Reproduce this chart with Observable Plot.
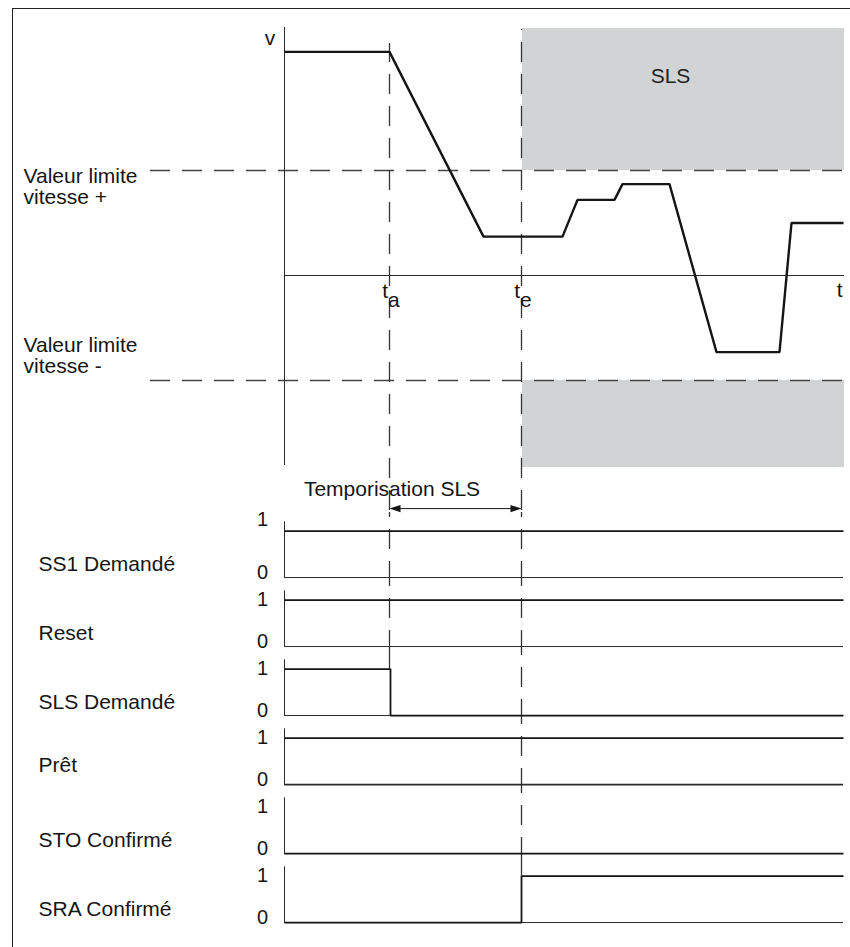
<!DOCTYPE html>
<html>
<head>
<meta charset="utf-8">
<script src="https://cdn.jsdelivr.net/npm/d3@7"></script>
<script src="https://cdn.jsdelivr.net/npm/@observablehq/plot@0.6"></script>
<style>
  body { margin: 0; background: #fff; }
  #wrap { position: relative; width: 850px; height: 947px; overflow: hidden; background: #fff; }
  #frame { position: absolute; left: 12px; top: 8px; width: 900px; height: 1000px;
           border-left: 1.5px solid #222; border-top: 1.5px solid #222; box-sizing: border-box; }
  #top { position: absolute; left: 0; top: 0; }
  #bottom { position: absolute; left: 0; top: 510px; }
</style>
</head>
<body>
<div id="wrap"><div id="frame"></div><div id="top"></div><div id="bottom"></div></div>
<script>
// ---------- data ----------
const tA = 105, tE = 237, tEnd = 559, tMax = 560;
const speedTime  = [0, 105, 199, 278, 293, 330, 338, 385, 432, 495, 507, 559];
const speedValue = [2.13, 2.13, 0.37, 0.37, 0.72, 0.72, 0.87, 0.87, -0.73, -0.73, 0.50, 0.50];
const limitPlus = 1, limitMinus = -1;
const slsZoneTop = 2.352, slsZoneBottom = -1.83;
const signalNames = ["SS1 Demandé", "Reset", "SLS Demandé", "Prêt", "STO Confirmé", "SRA Confirmé"];
const signalChangeTimes = [[0], [0], [0, 106], [0], [0], [0, 237]];
const signalLevels = [[1], [1], [1, 0], [1], [0], [0, 1]];
const markerTimes = [tA, tE];
const markerSubs = ["a", "e"];
const limitLine1 = "Valeur limite";
const limitLine2 = ["vitesse +", "vitesse -"];
const slsLabel = {t: 386, v: 1.9, text: "SLS"};
const delayLabel = "Temporisation SLS";

// ---------- layout constants ----------
const FONT = "Liberation Sans, Arial, Helvetica, sans-serif";
const INK = "#151515";
const vAxisTop = 2.362, vAxisBottom = -1.81;
const yTopDomain = [-2.2381, 2.6];
const arrowV = -2.22;
const sigLo = -4 / 47, sigHi = (69.8 - 4) / 47;
const dash = "20,12";

// ---------- top plot: speed ----------
const speed = speedTime.map((t, i) => ({t, v: speedValue[i]}));
const zones = [{y1: limitPlus, y2: slsZoneTop}, {y1: slsZoneBottom, y2: limitMinus}];

const headRight = {draw(ctx) { ctx.moveTo(0, 0); ctx.lineTo(-11, -3.6); ctx.lineTo(-11, 3.6); ctx.closePath(); }};
const headLeft  = {draw(ctx) { ctx.moveTo(0, 0); ctx.lineTo(11, -3.6); ctx.lineTo(11, 3.6); ctx.closePath(); }};

const topPlot = Plot.plot({
  width: 850, height: 510,
  marginLeft: 284, marginRight: 6, marginTop: 2, marginBottom: 0,
  x: {domain: [0, tMax], axis: null},
  y: {domain: yTopDomain, axis: null},
  style: {background: "transparent", fontFamily: FONT, overflow: "visible"},
  marks: [
    Plot.rect(zones, {x1: tE + 1, x2: tMax, y1: "y1", y2: "y2", fill: "#d1d3d4"}),
    Plot.ruleY([limitPlus, limitMinus], {x1: -134, x2: tMax, stroke: "#444", strokeWidth: 1.3, strokeDasharray: dash}),
    Plot.ruleX([0], {y1: vAxisBottom, y2: vAxisTop, stroke: "#2a2a2a", strokeWidth: 1}),
    Plot.ruleY([0], {x1: 0, x2: tMax, stroke: "#2a2a2a", strokeWidth: 1}),
    Plot.ruleX([tA], {y1: yTopDomain[0], y2: 2.21, stroke: "#333", strokeWidth: 1.3, strokeDasharray: dash}),
    Plot.ruleX([tE], {y1: yTopDomain[0], y2: 2.343, stroke: "#333", strokeWidth: 1.3, strokeDasharray: dash}),
    Plot.line(speed, {x: "t", y: "v", stroke: INK, strokeWidth: 2.4, strokeLinejoin: "miter", strokeLinecap: "butt"}),
    // labels
    Plot.text(["v"], {x: 0, y: vAxisTop, text: d => d, dx: -14.5, dy: 11, fontSize: 21, fill: INK, textAnchor: "middle"}),
    Plot.text([limitLine1], {x: 0, y: limitPlus, text: d => d, dx: -261, dy: 5.5, textAnchor: "start", fontSize: 21, fill: INK}),
    Plot.text([limitLine2[0]], {x: 0, y: limitPlus, text: d => d, dx: -261, dy: 26.5, textAnchor: "start", fontSize: 21, fill: INK}),
    Plot.text([limitLine1], {x: 0, y: limitMinus, text: d => d, dx: -261, dy: -35.5, textAnchor: "start", fontSize: 21, fill: INK}),
    Plot.text([limitLine2[1]], {x: 0, y: limitMinus, text: d => d, dx: -261, dy: -14.5, textAnchor: "start", fontSize: 21, fill: INK}),
    Plot.text([slsLabel], {x: "t", y: "v", text: "text", fontSize: 21, fill: "#222", textAnchor: "middle"}),
    Plot.text(markerTimes, {x: d => d, y: 0, text: () => "t", textAnchor: "end", dx: -1.5, dy: 15.3, fontSize: 21, fill: INK}),
    Plot.text(markerTimes, {x: d => d, y: 0, text: (d, i) => markerSubs[i], textAnchor: "start", dx: -1.5, dy: 24.3, fontSize: 21, fill: INK}),
    Plot.text(["t"], {x: tMax, y: 0, text: d => d, textAnchor: "end", dx: -2, dy: 14.3, fontSize: 21, fill: INK}),
    // delay annotation
    Plot.text([delayLabel], {x: tA, y: arrowV, text: d => d, dx: 2.5, dy: -19, fontSize: 21, fill: INK, textAnchor: "middle"}),
    Plot.ruleY([arrowV], {x1: tA + 4, x2: tE - 4, stroke: INK, strokeWidth: 1}),
    Plot.dot([tE], {x: d => d, y: arrowV, symbol: headRight, fill: INK, stroke: "none"}),
    Plot.dot([tA], {x: d => d, y: arrowV, symbol: headLeft, fill: INK, stroke: "none"})
  ]
});
document.getElementById("top").appendChild(topPlot);

// ---------- bottom plot: signals ----------
const stepPoints = signalNames.flatMap((name, k) => {
  const ts = signalChangeTimes[k], ls = signalLevels[k];
  return [...ts.map((t, i) => ({name, t, level: ls[i]})), {name, t: tEnd, level: ls[ls.length - 1]}];
});

const dashSegs = [];
markerTimes.forEach(mt => {
  const kStop = signalChangeTimes.findIndex(ts => ts.some((t, i) => i > 0 && Math.abs(t - mt) <= 2));
  for (let k = 0; k <= kStop; k++) {
    dashSegs.push({name: signalNames[k], t: mt, y1: k === kStop ? 1 : sigLo, y2: sigHi});
  }
});

const bottomPlot = Plot.plot({
  width: 850, height: 437,
  marginLeft: 284, marginRight: 6, marginTop: 0, marginBottom: 18.2,
  x: {domain: [0, tMax], axis: null},
  y: {domain: [sigLo, sigHi], axis: null},
  fy: {domain: signalNames, padding: 0, axis: null},
  style: {background: "transparent", fontFamily: FONT, overflow: "visible"},
  marks: [
    Plot.ruleX(dashSegs, {fy: "name", x: "t", y1: "y1", y2: "y2", stroke: "#333", strokeWidth: 1.3, strokeDasharray: dash}),
    Plot.ruleY(signalNames, {fy: d => d, y: 0, x1: 0, x2: tEnd, stroke: "#2a2a2a", strokeWidth: d => d === "Prêt" ? 1.7 : 1}),
    Plot.ruleX(signalNames, {fy: d => d, x: 0, y1: 0, y2: 1.2, stroke: "#2a2a2a", strokeWidth: 1}),
    Plot.line(stepPoints, {fy: "name", z: "name", x: "t", y: "level", curve: "step-after", stroke: INK, strokeWidth: 1.8, strokeLinejoin: "miter", strokeLinecap: "butt"}),
    Plot.text(signalNames.filter(d => d !== "Prêt"), {fy: d => d, x: 0, y: 0, text: d => d, dx: -246, dy: -13, textAnchor: "start", fontSize: 21, fill: INK}),
    Plot.text(["Prêt"], {fy: d => d, x: 0, y: 0, text: d => d, dx: -246, dy: -19, textAnchor: "start", fontSize: 21, fill: INK}),
    Plot.text(signalNames.slice(0, 1), {fy: d => d, x: 0, y: 1, text: () => "1", dx: -22, dy: -11, fontSize: 20, fill: INK}),
    Plot.text(signalNames.slice(1), {fy: d => d, x: 0, y: 1, text: () => "1", dx: -22, dy: 0, fontSize: 20, fill: INK}),
    Plot.text(signalNames, {fy: d => d, x: 0, y: 0, text: () => "0", dx: -22, dy: -4.5, fontSize: 20, fill: INK})
  ]
});
document.getElementById("bottom").appendChild(bottomPlot);
</script>
</body>
</html>
